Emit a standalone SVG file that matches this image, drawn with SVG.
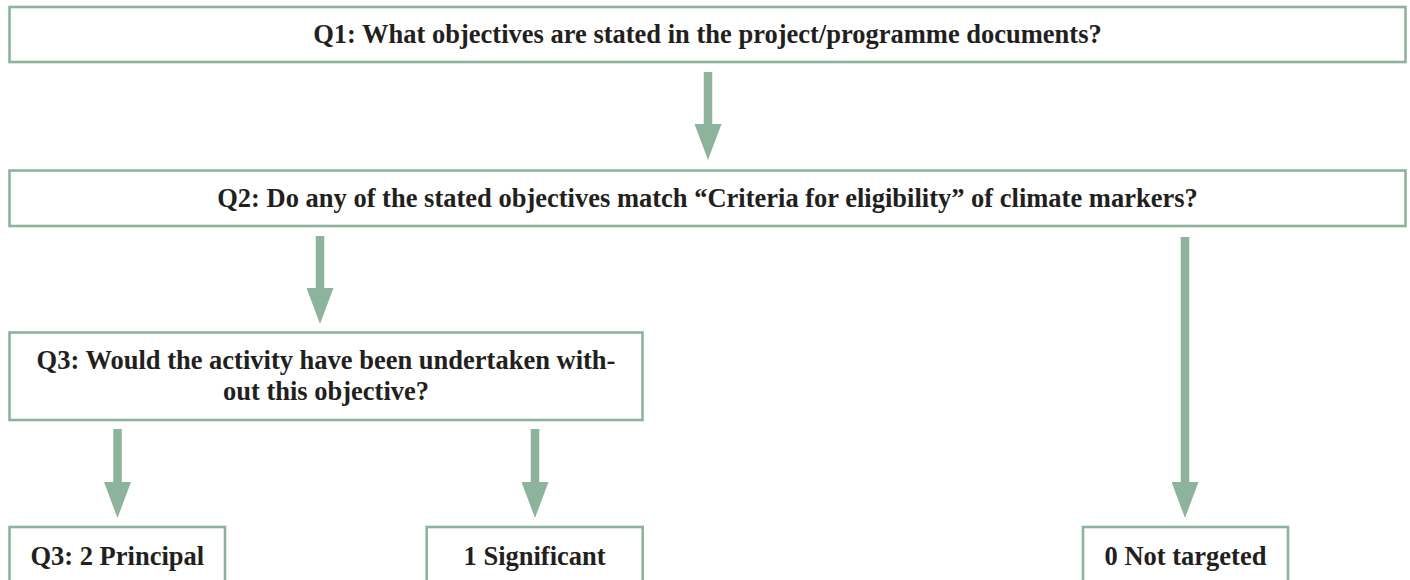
<svg xmlns="http://www.w3.org/2000/svg" width="1410" height="580" viewBox="0 0 1410 580">
  <style>
    .box { fill: #ffffff; stroke: #8db39c; stroke-width: 2.6; }
    .label { font-family: "Liberation Serif", "Times New Roman", serif; font-weight: bold; font-size: 26.5px; fill: #231f20; text-anchor: middle; }
    .flow { stroke: #8db39c; stroke-width: 8.5; fill: none; marker-end: url(#head); }
  </style>
  <defs>
    <marker id="head" viewBox="0 0 36 27" markerWidth="36" markerHeight="27" refX="0" refY="13.5" orient="auto" markerUnits="userSpaceOnUse">
      <path d="M0,0 L36,13.5 L0,27 Z" fill="#8db39c"/>
    </marker>
  </defs>

  <rect width="1410" height="580" fill="#ffffff"/>

  <!-- connectors -->
  <g id="connectors">
    <line class="flow" x1="708" y1="72" x2="708" y2="124"/>
    <line class="flow" x1="320" y1="236" x2="320" y2="288"/>
    <line class="flow" x1="1185" y1="237" x2="1185" y2="482"/>
    <line class="flow" x1="117.5" y1="429" x2="117.5" y2="482"/>
    <line class="flow" x1="535" y1="429" x2="535" y2="482"/>
  </g>

  <g id="q1">
    <rect class="box" x="9.5" y="7" width="1396" height="55"/>
    <text class="label" x="707.5" y="43">Q1: What objectives are stated in the project/programme documents?</text>
  </g>

  <g id="q2">
    <rect class="box" x="9.5" y="170.5" width="1396" height="55.5"/>
    <text class="label" x="707.5" y="207">Q2: Do any of the stated objectives match “Criteria for eligibility” of climate markers?</text>
  </g>

  <g id="q3">
    <rect class="box" x="9.5" y="332.5" width="633" height="87.5"/>
    <text class="label" x="326" y="369">Q3: Would the activity have been undertaken with-</text>
    <text class="label" x="326" y="400">out this objective?</text>
  </g>

  <g id="principal">
    <rect class="box" x="9.5" y="527" width="215.5" height="80"/>
    <text class="label" x="117.3" y="565">Q3: 2 Principal</text>
  </g>

  <g id="significant">
    <rect class="box" x="426.7" y="527" width="216" height="80"/>
    <text class="label" x="534.6" y="565">1 Significant</text>
  </g>

  <g id="not-targeted">
    <rect class="box" x="1083" y="527" width="205" height="80"/>
    <text class="label" x="1185.5" y="565">0 Not targeted</text>
  </g>
</svg>
